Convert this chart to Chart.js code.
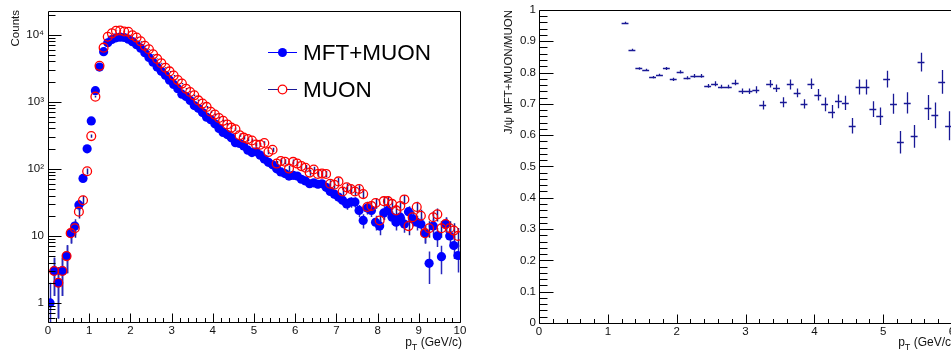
<!DOCTYPE html>
<html>
<head>
<meta charset="utf-8">
<script src="https://cdn.jsdelivr.net/npm/chart.js@4.4.0/dist/chart.umd.min.js"></script>
<style>
  html, body { margin: 0; padding: 0; background: #fff; overflow: hidden; width: 951px; height: 354px; }
  canvas { position: absolute; top: 0; }
  #countsChart { left: 0; }
  #ratioChart { left: 478px; }
</style>
</head>
<body>
<canvas id="countsChart" width="478" height="354"></canvas>
<canvas id="ratioChart" width="500" height="354"></canvas>
<script>
// pT bin centres (GeV/c), 0.1 wide bins from 0 to 10
const binCenters = [
  0.05, 0.15, 0.25, 0.35, 0.45, 0.55, 0.65, 0.75, 0.85, 0.95,
  1.05, 1.15, 1.25, 1.35, 1.45, 1.55, 1.65, 1.75, 1.85, 1.95,
  2.05, 2.15, 2.25, 2.35, 2.45, 2.55, 2.65, 2.75, 2.85, 2.95,
  3.05, 3.15, 3.25, 3.35, 3.45, 3.55, 3.65, 3.75, 3.85, 3.95,
  4.05, 4.15, 4.25, 4.35, 4.45, 4.55, 4.65, 4.75, 4.85, 4.95,
  5.05, 5.15, 5.25, 5.35, 5.45, 5.55, 5.65, 5.75, 5.85, 5.95,
  6.05, 6.15, 6.25, 6.35, 6.45, 6.55, 6.65, 6.75, 6.85, 6.95,
  7.05, 7.15, 7.25, 7.35, 7.45, 7.55, 7.65, 7.75, 7.85, 7.95,
  8.05, 8.15, 8.25, 8.35, 8.45, 8.55, 8.65, 8.75, 8.85, 8.95,
  9.05, 9.15, 9.25, 9.35, 9.45, 9.55, 9.65, 9.75, 9.85, 9.95
];

// counts per bin, MFT+MUON
const mftMuon = [
  1, 3, 2, 3, 5, 11, 14, 29, 72, 199,
  519, 1466, 3300, 5600, 7600, 8500, 9000, 9200, 9100, 8600,
  7900, 7100, 6300, 5400, 4600, 3900, 3300, 2850, 2480, 2100,
  1820, 1570, 1300, 1200, 1050, 880, 800, 690, 590, 540,
  470, 400, 350, 325, 290, 245, 240, 220, 190, 175,
  180, 160, 140, 125, 115, 100, 90, 85, 78, 80,
  78, 70, 66, 60, 62, 59, 60, 53, 46, 42,
  38, 34, 30, 32, 32, 24, 17, 26, 24, 16,
  14, 22, 24, 19, 16, 19, 15, 23, 18, 16,
  15, 11, 3.9, 14, 10, 4.9, 15, 10, 7.2, 5.1
];

// counts per bin, MUON only
const muonOnly = [
  null, 3, 2, 3, 5, 11, 13, 23, 34, 92,
  308, 1194, 3440, 6420, 9350, 10500, 11450, 11600, 11200, 11050,
  9850, 9070, 7990, 6840, 6080, 5110, 4370, 3770, 3230, 2840,
  2460, 2110, 1870, 1570, 1400, 1250, 1050, 940, 840, 710,
  645, 573, 520, 460, 412, 390, 318, 292, 278, 265,
  231, 229, 243, 178, 193, 120, 131, 128, 101, 127,
  120, 110, 104, 88, 98, 84, 85, 84, 60, 58,
  65, 46, 53, 50, 46, 50, 42, 27, 28, 31,
  17, 33, 33, 30, 24, 28, 35, 14, 19, 27,
  20, 11, 13, 19, 21, 13, 15, 13, 12, 10
];

// ratio MFT+MUON / MUON
const ratioPt = [
  1.25, 1.35, 1.45, 1.55, 1.65, 1.75, 1.85, 1.95, 2.05, 2.15,
  2.25, 2.35, 2.45, 2.55, 2.65, 2.75, 2.85, 2.95, 3.05, 3.15,
  3.25, 3.35, 3.45, 3.55, 3.65, 3.75, 3.85, 3.95, 4.05, 4.15,
  4.25, 4.35, 4.45, 4.55, 4.65, 4.75, 4.85, 4.95, 5.05, 5.15,
  5.25, 5.35, 5.45, 5.55, 5.65, 5.75, 5.85, 5.95
];
const ratioVal = [
  0.959, 0.872, 0.813, 0.808, 0.785, 0.792, 0.813, 0.778, 0.802, 0.783,
  0.789, 0.789, 0.757, 0.764, 0.755, 0.755, 0.768, 0.740, 0.740, 0.745,
  0.696, 0.764, 0.750, 0.705, 0.762, 0.735, 0.700, 0.764, 0.729, 0.698,
  0.675, 0.708, 0.703, 0.630, 0.754, 0.754, 0.683, 0.660, 0.779, 0.700,
  0.577, 0.703, 0.596, 0.833, 0.688, 0.663, 0.770, 0.630
];
const ratioErr = [
  0.003, 0.004, 0.004, 0.004, 0.004, 0.004, 0.005, 0.005, 0.005, 0.005,
  0.006, 0.006, 0.006, 0.008, 0.006, 0.006, 0.009, 0.009, 0.009, 0.011,
  0.014, 0.012, 0.012, 0.016, 0.016, 0.014, 0.015, 0.017, 0.018, 0.022,
  0.021, 0.022, 0.023, 0.025, 0.024, 0.024, 0.025, 0.028, 0.027, 0.032,
  0.036, 0.034, 0.036, 0.030, 0.040, 0.041, 0.038, 0.046
];

const countTicks = [1, 10, 100, 1000, 10000];
const countTickLabels = ['1', '10', '10²', '10³', '10⁴'];
const ratioTickLabels = ['0', '0.1', '0.2', '0.3', '0.4', '0.5', '0.6', '0.7', '0.8', '0.9', '1'];

const FONT = '"Liberation Sans", Arial, Helvetica, sans-serif';
Chart.defaults.font.family = FONT;
Chart.defaults.color = '#111';

const NAVY = 'rgb(25,25,150)';

// vertical (and optional horizontal) error bars, through the chart's scales
const errorBars = {
  id: 'errorBars',
  beforeDatasetsDraw(chart) {
    const { ctx, chartArea: a } = chart;
    ctx.save();
    ctx.beginPath();
    ctx.rect(a.left, a.top, a.right - a.left, a.bottom - a.top);
    ctx.clip();
    chart.data.datasets.forEach((ds, di) => {
      if (!ds.errY) return;
      const meta = chart.getDatasetMeta(di);
      const xs = chart.scales[meta.xAxisID];
      const ys = chart.scales[meta.yAxisID];
      ctx.strokeStyle = ds.errColor;
      ctx.lineWidth = ds.errWidth || 1;
      ctx.beginPath();
      ds.data.forEach((p, i) => {
        if (p.y == null) return;
        const e = ds.errY[i];
        const px = Math.round(xs.getPixelForValue(p.x)) + 0.5;
        const lo = p.y - e > 0 || ys.type !== 'logarithmic' ? ys.getPixelForValue(p.y - e) : a.bottom;
        const hi = ys.getPixelForValue(p.y + e);
        ctx.moveTo(px, lo);
        ctx.lineTo(px, hi);
        if (ds.errX) {
          const py = Math.round(ys.getPixelForValue(p.y)) + 0.5;
          ctx.moveTo(xs.getPixelForValue(p.x - ds.errX), py);
          ctx.lineTo(xs.getPixelForValue(p.x + ds.errX), py);
        }
      });
      ctx.stroke();
    });
    ctx.restore();
  }
};

// ROOT style frame with inward ticks
function rootFrame(xMax, xMinor, yTicks) {
  return {
    id: 'rootFrame',
    afterDraw(chart) {
      const { ctx, chartArea: a, scales: { x, y } } = chart;
      const L = Math.round(a.left) + 0.5, R = Math.round(a.right) + 0.5;
      const T = Math.round(a.top) + 0.5, B = Math.round(a.bottom) + 0.5;
      ctx.save();
      ctx.strokeStyle = '#000';
      ctx.lineWidth = 1;
      ctx.beginPath();
      ctx.moveTo(L, T); ctx.lineTo(R, T); ctx.lineTo(R, B); ctx.lineTo(L, B); ctx.closePath();
      const n = Math.round(xMax / xMinor);
      for (let k = 0; k <= n; k++) {
        const v = k * xMinor;
        const px = Math.round(x.getPixelForValue(v)) + 0.5;
        const len = Math.abs(v - Math.round(v)) < 1e-6 ? 9 : 4.5;
        ctx.moveTo(px, B); ctx.lineTo(px, B - len);
      }
      yTicks.forEach(t => {
        const py = Math.round(y.getPixelForValue(t[0])) + 0.5;
        ctx.moveTo(L, py); ctx.lineTo(L + t[1], py);
      });
      ctx.stroke();
      ctx.restore();
    }
  };
}

function drawPtTitle(ctx, rightX, baseY) {
  ctx.save();
  ctx.fillStyle = '#111';
  ctx.textBaseline = 'alphabetic';
  ctx.textAlign = 'left';
  ctx.font = '12px ' + FONT;
  const wp = ctx.measureText('p').width;
  const rest = ' (GeV/c)';
  const wr = ctx.measureText(rest).width;
  ctx.font = '9px ' + FONT;
  const wt = ctx.measureText('T').width;
  let x0 = rightX - wp - wt - wr;
  ctx.font = '12px ' + FONT;
  ctx.fillText('p', x0, baseY);
  ctx.font = '9px ' + FONT;
  ctx.fillText('T', x0 + wp, baseY + 4);
  ctx.font = '12px ' + FONT;
  ctx.fillText(rest, x0 + wp + wt, baseY);
  ctx.restore();
}

function drawYTitle(ctx, text, baseX, topY, size) {
  ctx.save();
  ctx.fillStyle = '#111';
  ctx.font = size + 'px ' + FONT;
  ctx.translate(baseX, topY);
  ctx.rotate(-Math.PI / 2);
  ctx.textAlign = 'right';
  ctx.textBaseline = 'alphabetic';
  ctx.fillText(text, 0, 0);
  ctx.restore();
}

// ----- left: counts vs pT -----
const logTicks = [];
for (let d = -1; d <= 4; d++) {
  for (let m = 1; m <= 9; m++) {
    const v = m * Math.pow(10, d);
    if (v > 0.52 && v < 22700) logTicks.push([v, m === 1 ? 13 : 7]);
  }
}

const countsDecor = {
  id: 'countsDecor',
  afterDraw(chart) {
    const ctx = chart.ctx;
    drawYTitle(ctx, 'Counts', 19, 10, 11.5);
    drawPtTitle(ctx, 462, 346);
    // legend
    ctx.save();
    ctx.lineWidth = 1;
    ctx.strokeStyle = 'rgb(0,0,255)';
    ctx.beginPath(); ctx.moveTo(268, 52.5); ctx.lineTo(297, 52.5); ctx.stroke();
    ctx.fillStyle = 'rgb(0,0,255)';
    ctx.beginPath(); ctx.arc(282.5, 52.5, 4.5, 0, Math.PI * 2); ctx.fill();
    ctx.strokeStyle = NAVY;
    ctx.beginPath(); ctx.moveTo(268, 89.5); ctx.lineTo(297, 89.5); ctx.stroke();
    ctx.fillStyle = '#fff';
    ctx.strokeStyle = 'rgb(255,0,0)';
    ctx.lineWidth = 1.3;
    ctx.beginPath(); ctx.arc(282.5, 89.5, 4.3, 0, Math.PI * 2); ctx.fill(); ctx.stroke();
    ctx.fillStyle = '#000';
    ctx.font = '22.5px ' + FONT;
    ctx.textAlign = 'left';
    ctx.textBaseline = 'alphabetic';
    ctx.fillText('MFT+MUON', 303, 60);
    ctx.fillText('MUON', 303, 97);
    ctx.restore();
  }
};

new Chart(document.getElementById('countsChart'), {
  type: 'scatter',
  data: {
    datasets: [
      {
        label: 'MUON',
        data: binCenters.map((x, i) => ({ x, y: muonOnly[i] })),
        errY: muonOnly.map(v => (v == null ? 0 : Math.sqrt(v))),
        errColor: NAVY,
        errWidth: 1.5,
        pointRadius: 4.4,
        pointBorderWidth: 1.3,
        pointBorderColor: 'rgb(255,0,0)',
        pointBackgroundColor: 'rgba(0,0,0,0)',
        order: 0
      },
      {
        label: 'MFT+MUON',
        data: binCenters.map((x, i) => ({ x, y: mftMuon[i] })),
        errY: mftMuon.map(v => Math.sqrt(v)),
        errColor: 'rgb(40,40,190)',
        errWidth: 1.5,
        pointRadius: 4.6,
        pointBorderWidth: 0,
        pointBackgroundColor: 'rgb(0,0,255)',
        order: 1
      }
    ]
  },
  options: {
    responsive: false,
    animation: false,
    events: [],
    layout: { padding: { left: 0, right: 18, top: 9, bottom: 0 } },
    plugins: { legend: { display: false }, tooltip: { enabled: false } },
    scales: {
      x: {
        type: 'linear', min: 0, max: 10,
        grid: { display: false, drawTicks: false },
        border: { display: false },
        ticks: { stepSize: 1, padding: 2, font: { size: 11.5 }, maxRotation: 0, callback: v => String(v) },
        afterFit: s => { s.height = 32; }
      },
      y: {
        type: 'logarithmic', min: 0.52, max: 22700,
        grid: { display: false, drawTicks: false },
        border: { display: false },
        ticks: { padding: 4, font: { size: 11.5 }, callback: (v, i) => countTickLabels[i] },
        afterBuildTicks: s => { s.ticks = countTicks.map(v => ({ value: v })); },
        afterFit: s => { s.width = 48; }
      }
    }
  },
  plugins: [errorBars, rootFrame(10, 0.2, logTicks), countsDecor]
});

// ----- right: ratio -----
const ratioYTicks = [];
for (let k = 0; k <= 50; k++) ratioYTicks.push([k * 0.02, k % 5 === 0 ? 14 : 8]);

const ratioDecor = {
  id: 'ratioDecor',
  afterDraw(chart) {
    const ctx = chart.ctx;
    drawYTitle(ctx, 'J/\u03C8 MFT+MUON/MUON', 33.5, 10, 11.5);
    drawPtTitle(ctx, 477, 346);
  }
};

new Chart(document.getElementById('ratioChart'), {
  type: 'scatter',
  data: {
    datasets: [{
      label: 'ratio',
      data: ratioPt.map((x, i) => ({ x, y: ratioVal[i] })),
      errY: ratioErr,
      errX: 0.05,
      errColor: NAVY,
      errWidth: 1.3,
      pointRadius: 0
    }]
  },
  options: {
    responsive: false,
    animation: false,
    events: [],
    layout: { padding: { left: 0, right: 26, top: 9, bottom: 0 } },
    plugins: { legend: { display: false }, tooltip: { enabled: false } },
    scales: {
      x: {
        type: 'linear', min: 0, max: 6,
        grid: { display: false, drawTicks: false },
        border: { display: false },
        ticks: { stepSize: 1, padding: 2, font: { size: 11.5 }, maxRotation: 0, callback: v => String(v) },
        afterFit: s => { s.height = 31; }
      },
      y: {
        type: 'linear', min: 0, max: 1,
        grid: { display: false, drawTicks: false },
        border: { display: false },
        ticks: { stepSize: 0.1, padding: 3, font: { size: 11.5 }, callback: (v, i) => ratioTickLabels[i] },
        afterFit: s => { s.width = 61; }
      }
    }
  },
  plugins: [errorBars, rootFrame(6, 0.2, ratioYTicks), ratioDecor]
});
</script>
</body>
</html>
